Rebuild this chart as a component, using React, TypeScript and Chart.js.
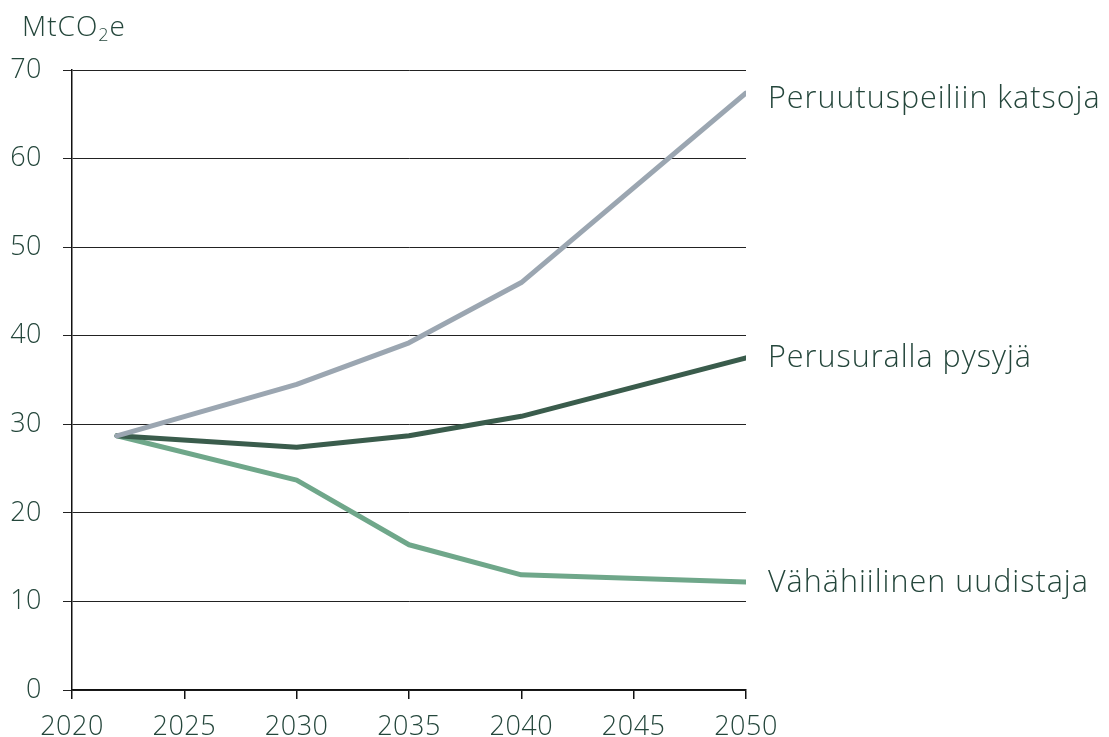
import React, { useEffect, useRef } from "react";
import { Chart, registerables } from "chart.js";

Chart.register(...registerables);

const years = [2022, 2030, 2035, 2040, 2050];
const peruutuspeili = [28.7, 34.5, 39.2, 46.0, 67.4];
const perusura = [28.7, 27.4, 28.7, 30.9, 37.5];
const vahahiili = [28.7, 23.7, 16.4, 13.0, 12.2];
const seriesNames = ["Peruutuspeiliin katsoja", "Perusuralla pysyjä", "Vähähiilinen uudistaja"];
const seriesColors = ["#9ba6b1", "#3a5c4c", "#6fa78a"];
const xTicks = [2020, 2025, 2030, 2035, 2040, 2045, 2050];
const yTicks = [0, 10, 20, 30, 40, 50, 60, 70];
const yUnit = "MtCO";

const textColor = "#24463b";
const fontFamily = "'Open Sans', 'Noto Sans', sans-serif";

const endLabels = {
  id: "endLabels",
  beforeDraw(chart: any) {
    chart.ctx.letterSpacing = "0.5px";
  },
  afterDatasetsDraw(chart: any) {
    const ctx = chart.ctx;
    ctx.save();
    ctx.letterSpacing = "1px";
    ctx.font = `350 30.5px ${fontFamily}`;
    ctx.fillStyle = textColor;
    ctx.textAlign = "left";
    ctx.textBaseline = "middle";
    const dys = [6, 0, 1];
    chart.data.datasets.forEach((ds: any, i: number) => {
      const meta = chart.getDatasetMeta(i);
      const pt = meta.data[meta.data.length - 1];
      ctx.fillText(ds.label, pt.x + 22, pt.y + dys[i]);
    });
    // y unit title with subscript
    ctx.letterSpacing = "1px";
    ctx.textBaseline = "alphabetic";
    ctx.font = `350 28px ${fontFamily}`;
    const x0 = 22;
    const yb = 36;
    ctx.fillText(yUnit, x0, yb);
    let w = ctx.measureText(yUnit).width;
    ctx.font = `350 18px ${fontFamily}`;
    ctx.fillText("2", x0 + w, yb + 5);
    w += ctx.measureText("2").width;
    ctx.font = `350 28px ${fontFamily}`;
    ctx.fillText("e", x0 + w, yb);
    ctx.restore();
  },
};

export default function App() {
  const ref = useRef<HTMLCanvasElement>(null);
  useEffect(() => {
    document.body.style.margin = "0";
    const data = [peruutuspeili, perusura, vahahiili];
    const chart = new Chart(ref.current!, {
      type: "line",
      data: {
        datasets: data.map((vals, i) => ({
          label: seriesNames[i],
          data: years.map((y, j) => ({ x: y, y: vals[j] })),
          borderColor: seriesColors[i],
          backgroundColor: seriesColors[i],
          borderWidth: 5,
          pointRadius: 0,
          tension: 0,
          borderCapStyle: "round",
          borderJoinStyle: "round",
        })),
      },
      options: {
        animation: false,
        responsive: false,
        layout: { padding: { top: 70, right: 363, bottom: 0, left: 0 } },
        plugins: { legend: { display: false }, tooltip: { enabled: false } },
        scales: {
          x: {
            type: "linear",
            min: 2020,
            max: 2050,
            afterFit: (s: any) => { s.height = 47; },
            afterBuildTicks: (s: any) => { s.ticks = xTicks.map((v) => ({ value: v })); },
            border: { display: true, color: "#111", width: 1.5 },
            grid: { drawOnChartArea: false, drawTicks: true, tickLength: 9, color: "#111", lineWidth: 1.5 },
            ticks: {
              color: textColor,
              font: { family: fontFamily, size: 27, weight: "350" },
              padding: 12,
              maxRotation: 0,
              callback: (v: any) => String(v),
            },
          },
          y: {
            min: 0,
            max: 70,
            afterFit: (s: any) => { s.width = 72; },
            afterBuildTicks: (s: any) => { s.ticks = yTicks.map((v) => ({ value: v })); },
            border: { display: true, color: "#111", width: 1.5 },
            grid: { drawOnChartArea: true, drawTicks: true, tickLength: 9, color: "#222", lineWidth: 1 },
            ticks: {
              color: textColor,
              font: { family: fontFamily, size: 27, weight: "350" },
              padding: 21,
            },
          },
        },
      },
      plugins: [endLabels],
    });
    return () => chart.destroy();
  }, []);
  return <canvas ref={ref} width={1109} height={737} style={{ display: "block" }} />;
}
